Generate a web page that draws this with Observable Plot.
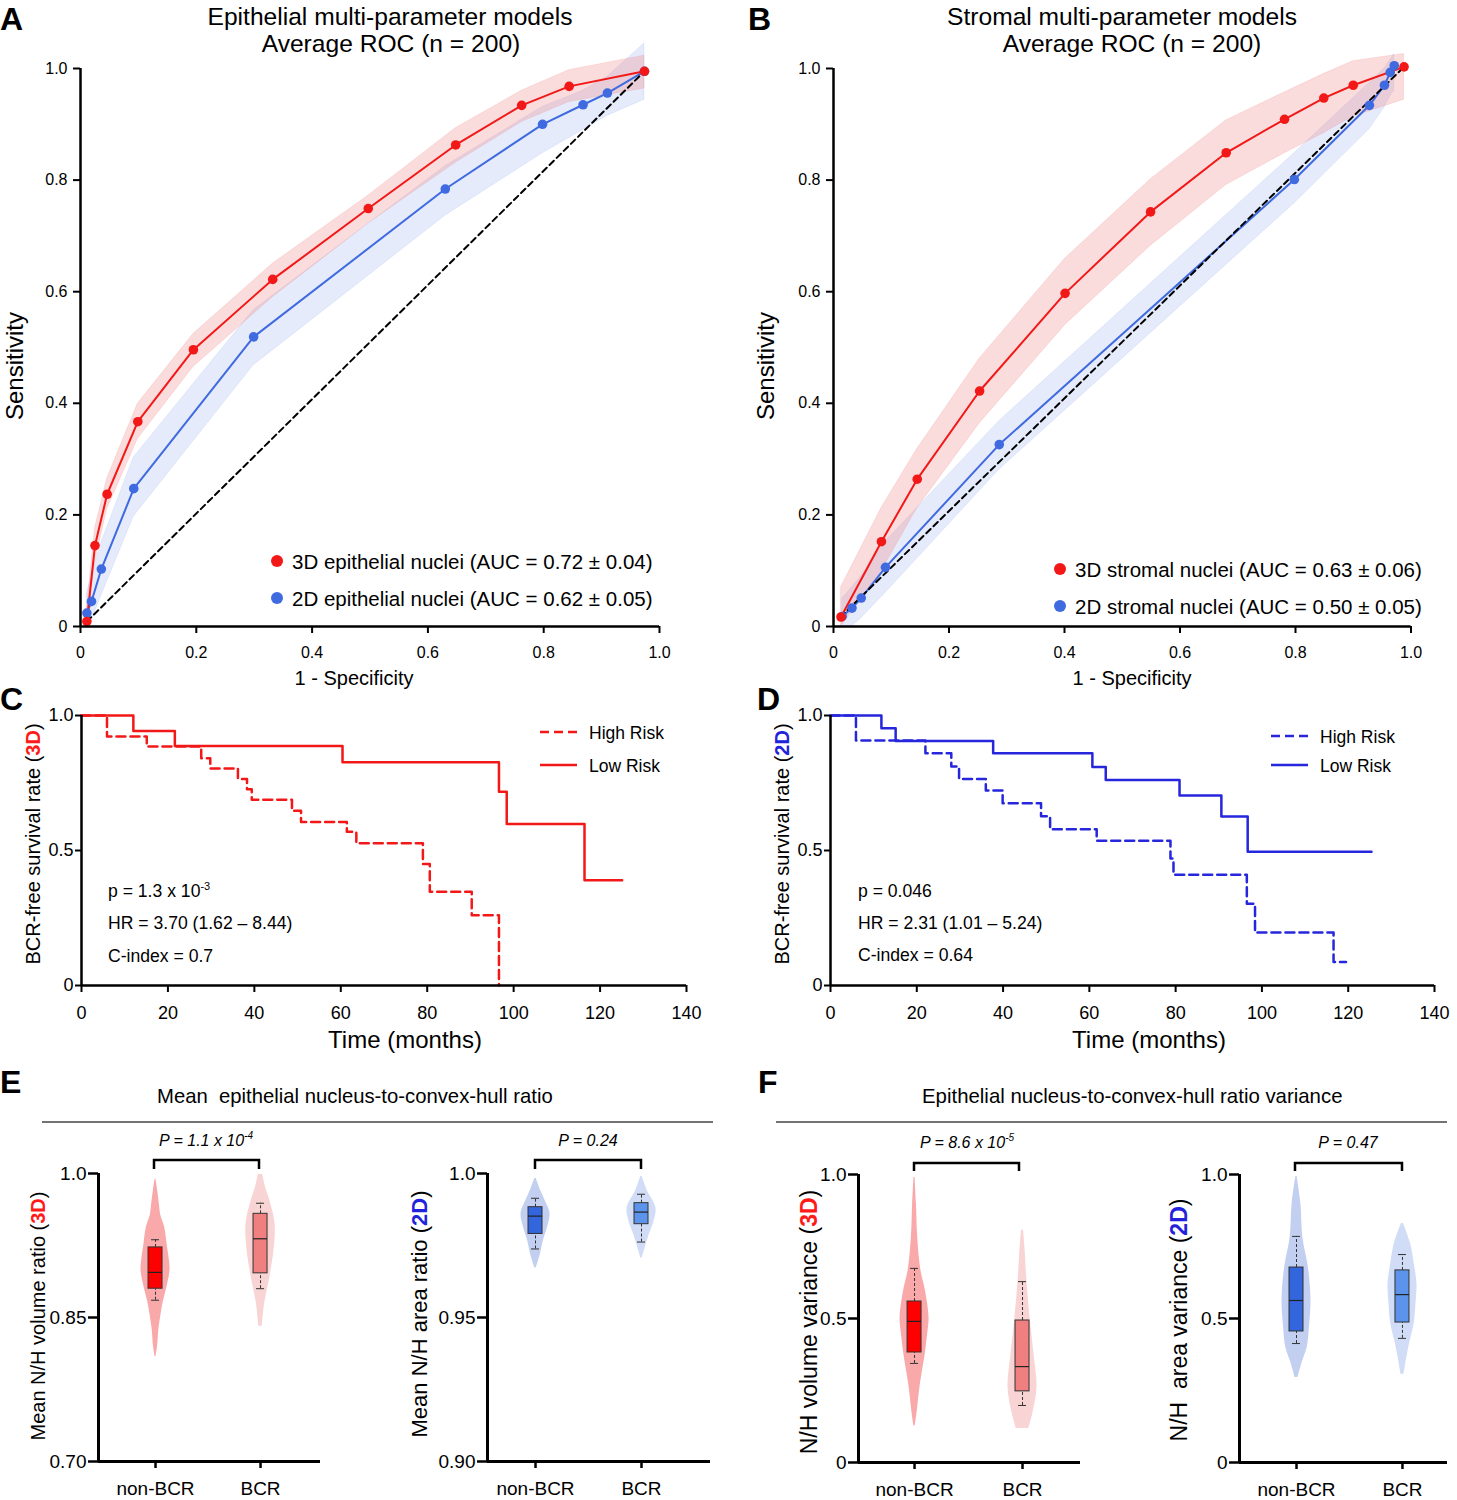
<!DOCTYPE html>
<html><head><meta charset="utf-8">
<script src="https://cdn.jsdelivr.net/npm/d3@7"></script>
<script src="https://cdn.jsdelivr.net/npm/@observablehq/plot@0.6"></script>
<style>
body{margin:0;background:#fff;}
#page{position:relative;width:1457px;height:1500px;overflow:hidden;background:#fff;}
.panel{position:absolute;}
.panel svg{overflow:visible;display:block;}
#overlay{position:absolute;left:0;top:0;pointer-events:none;}
</style></head><body><div id="page"></div>
<script>
// ---------- ROC data (panel A: epithelial) ----------
const rocA3x  = [0.011,0.025,0.046,0.099,0.195,0.332,0.497,0.648,0.762,0.844,0.974];
const rocA3y  = [0.009,0.145,0.237,0.367,0.496,0.622,0.749,0.863,0.934,0.968,0.995];
const rocA3hi = [0.030,0.175,0.265,0.399,0.524,0.650,0.772,0.893,0.960,0.997,1.023];
const rocA3lo = [0.000,0.115,0.210,0.336,0.465,0.590,0.722,0.831,0.904,0.940,0.964];
const rocA2x  = [0.011,0.019,0.036,0.092,0.299,0.630,0.798,0.868,0.910,0.974];
const rocA2y  = [0.024,0.045,0.103,0.247,0.519,0.784,0.900,0.935,0.956,0.995];
const rocA2hi = [0.060,0.090,0.150,0.303,0.567,0.825,0.931,0.960,0.985,1.045];
const rocA2lo = [0.000,0.010,0.055,0.197,0.468,0.736,0.848,0.890,0.915,0.944];
const diagAx = [0.011,0.974], diagAy = [0.009,0.995];
// ---------- ROC data (panel B: stromal) ----------
const rocB3x  = [0.013,0.083,0.145,0.253,0.401,0.549,0.680,0.781,0.849,0.900,0.988];
const rocB3y  = [0.017,0.152,0.264,0.422,0.597,0.743,0.849,0.909,0.947,0.970,1.003];
const rocB3hi = [0.070,0.212,0.318,0.480,0.659,0.801,0.907,0.957,0.990,1.013,1.026];
const rocB3lo = [0.000,0.099,0.212,0.364,0.540,0.682,0.791,0.848,0.884,0.914,0.944];
const rocB2x  = [0.015,0.032,0.048,0.090,0.287,0.798,0.928,0.954,0.964,0.971];
const rocB2y  = [0.018,0.033,0.051,0.106,0.326,0.801,0.934,0.970,0.993,1.005];
const rocB2hi = [0.050,0.070,0.090,0.152,0.368,0.848,0.974,1.000,1.015,1.026];
const rocB2lo = [0.000,0.000,0.015,0.060,0.281,0.758,0.891,0.930,0.950,0.960];
const diagBx = [0.012,0.988], diagBy = [0.017,1.003];
const rocTicks = [0,0.2,0.4,0.6,0.8,1.0];

// ---------- Kaplan-Meier (C: 3D, D: 2D) ----------
const kmC_hiT = [0,5.9,15.1,27.7,29.8,36.2,38.3,39.4,48.7,50.8,61.4,63.6,79.0,80.6,90.3,96.6];
const kmC_hiS = [1.0,0.922,0.885,0.842,0.804,0.765,0.727,0.688,0.647,0.606,0.569,0.527,0.45,0.347,0.26,0];
const kmC_loT = [0,12.0,21.6,60.4,96.6,98.4,116.4,125.1];
const kmC_loS = [1.0,0.943,0.887,0.827,0.718,0.598,0.390,0.390];
const kmD_hiT = [0,5.9,22.0,28.0,29.8,36.0,39.9,48.8,50.9,61.7,78.8,79.5,96.5,98.4,116.6,119.5];
const kmD_hiS = [1.0,0.907,0.860,0.811,0.765,0.722,0.675,0.627,0.579,0.536,0.47,0.41,0.303,0.196,0.087,0.087];
const kmD_loT = [0,11.8,15.1,37.7,60.7,63.8,80.9,90.6,96.7,125.4];
const kmD_loS = [1.0,0.953,0.906,0.860,0.809,0.761,0.704,0.626,0.495,0.495];
const kmXTicks = [0,20,40,60,80,100,120,140];
const kmYTicks = [0,0.5,1.0];

// ---------- Violin / box data ----------
const cats = ["non-BCR","BCR"];
// E left: mean N/H volume ratio (3D)
const vioE3n_v = [0.994,0.982,0.969,0.956,0.944,0.925,0.909,0.899,0.883,0.865,0.852,0.836,0.821,0.809];
const vioE3n_d = [0.03,0.15,0.26,0.37,0.63,0.81,0.96,1.0,0.81,0.52,0.37,0.22,0.15,0.03];
const vioE3b_v = [0.999,0.985,0.972,0.948,0.920,0.892,0.865,0.841];
const vioE3b_d = [0.15,0.36,0.64,1.0,0.93,0.64,0.29,0.12];
const boxE3_q1 = [0.880,0.896], boxE3_med = [0.897,0.932], boxE3_q3 = [0.923,0.958];
const boxE3_lo = [0.868,0.880], boxE3_hi = [0.931,0.969];
// E right: mean N/H area ratio (2D)
const vioE2n_v = [0.9983,0.9938,0.9903,0.9862,0.9817,0.9766,0.9714,0.9672];
const vioE2n_d = [0.05,0.38,0.69,1.0,0.85,0.54,0.31,0.05];
const vioE2b_v = [0.9990,0.9938,0.9879,0.9828,0.9783,0.9741,0.9707];
const vioE2b_d = [0.05,0.42,1.0,0.83,0.5,0.25,0.05];
const boxE2_q1 = [0.9790,0.9824], boxE2_med = [0.9852,0.9866], boxE2_q3 = [0.9883,0.9897];
const boxE2_lo = [0.9738,0.9762], boxE2_hi = [0.9914,0.9928];
// F left: N/H volume variance (3D)
const vioF3n_v = [0.99,0.90,0.78,0.667,0.60,0.503,0.44,0.378,0.31,0.26,0.18,0.128];
const vioF3n_d = [0.04,0.13,0.22,0.44,0.74,1.0,0.89,0.74,0.52,0.37,0.19,0.05];
const vioF3b_v = [0.806,0.736,0.642,0.493,0.378,0.26,0.17,0.118];
const vioF3b_d = [0.07,0.18,0.29,0.54,0.79,1.0,0.71,0.43];
const boxF3_q1 = [0.382,0.247], boxF3_med = [0.490,0.333], boxF3_q3 = [0.559,0.493];
const boxF3_lo = [0.344,0.198], boxF3_hi = [0.674,0.628];
// F right: N/H area variance (2D)
const vioF2n_v = [0.993,0.899,0.78,0.68,0.5625,0.47,0.40,0.344,0.295];
const vioF2n_d = [0.04,0.30,0.44,0.81,1.0,0.89,0.74,0.37,0.1];
const vioF2b_v = [0.83,0.76,0.69,0.62,0.55,0.483,0.42,0.365,0.306];
const vioF2b_d = [0.07,0.56,0.81,1.0,0.93,0.81,0.52,0.30,0.1];
const boxF2_q1 = [0.455,0.486], boxF2_med = [0.5625,0.583], boxF2_q3 = [0.677,0.667];
const boxF2_lo = [0.413,0.431], boxF2_hi = [0.785,0.722];

// ---------- rendering ----------
const FONT = "'Liberation Sans', Arial, Helvetica, sans-serif";
const RED = "#f21818", BLUE = "#3f6ae0", KMBLUE = "#2626dc";
const page = document.getElementById("page");
function baseStyle(size){ return {background:"transparent", overflow:"visible", fontFamily:FONT, fontSize:size+"px", color:"#000"}; }
function place(node, left, top, w){
  const d = document.createElement("div");
  d.className = "panel";
  d.style.left = left+"px"; d.style.top = top+"px"; d.style.width = w+"px";
  d.appendChild(node); page.appendChild(d);
}
const zip = (xs, ys, extra) => xs.map((x,i)=>Object.assign({x, y: ys[i]}, extra ? extra(i) : {}));

function rocPlot(s3, s2, dg, g){
  const t3 = zip(s3.x, s3.y, i => ({lo: s3.lo[i], hi: s3.hi[i]}));
  const t2 = zip(s2.x, s2.y, i => ({lo: s2.lo[i], hi: s2.hi[i]}));
  const td = zip(dg.x, dg.y);
  const tf = d => d === 0 ? "0" : d.toFixed(1);
  return Plot.plot({
    width: g.w, height: 640, marginLeft: g.ml, marginRight: g.mr, marginTop: 18, marginBottom: 64,
    x: {domain:[0,1], axis:null, label:null}, y: {domain:[0,1], axis:null, label:null},
    style: baseStyle(16),
    marks: [
      Plot.areaY(t2, {x:"x", y1:"lo", y2:"hi", fill:"#7f9ce8", fillOpacity:0.2, stroke:"#7f9ce8", strokeOpacity:0.15}),
      Plot.areaY(t3, {x:"x", y1:"lo", y2:"hi", fill:"#f08080", fillOpacity:0.28, stroke:"#f08080", strokeOpacity:0.2}),
      Plot.line(t2, {x:"x", y:"y", stroke:BLUE, strokeWidth:2}),
      Plot.line(t3, {x:"x", y:"y", stroke:RED, strokeWidth:2}),
      Plot.line(td, {x:"x", y:"y", stroke:"#000", strokeWidth:2, strokeDasharray:"6,4"}),
      Plot.dot(t2, {x:"x", y:"y", r:4.8, fill:BLUE}),
      Plot.dot(t3, {x:"x", y:"y", r:4.8, fill:RED}),
      Plot.ruleX([0], {stroke:"#000", strokeWidth:2.5}),
      Plot.ruleY([0], {stroke:"#000", strokeWidth:2.5}),
      Plot.axisY({ticks: rocTicks, tickFormat: tf, tickSize: 7, tickPadding: 6, fontSize: 16, strokeWidth: 2, label: null}),
      Plot.axisX({ticks: rocTicks, tickFormat: tf, tickSize: 7, tickPadding: 13, fontSize: 16, strokeWidth: 2, label: null})
    ]
  });
}

function kmPlot(hiT, hiS, loT, loS, color, g){
  const th = hiT.map((t,i)=>({t, s: hiS[i]}));
  const tl = loT.map((t,i)=>({t, s: loS[i]}));
  return Plot.plot({
    width: g.w, height: 370, marginLeft: g.ml, marginRight: g.mr, marginTop: 15, marginBottom: 85,
    x: {domain:[0,140], axis:null, label:null}, y: {domain:[0,1], axis:null, label:null},
    style: baseStyle(18),
    marks: [
      Plot.line(th, {x:"t", y:"s", curve:"step-after", stroke:color, strokeWidth:2.5, strokeDasharray:"9,5"}),
      Plot.line(tl, {x:"t", y:"s", curve:"step-after", stroke:color, strokeWidth:2.5}),
      Plot.ruleX([0], {stroke:"#000", strokeWidth:2.5}),
      Plot.ruleY([0], {stroke:"#000", strokeWidth:2.5}),
      Plot.axisY({ticks: kmYTicks, tickFormat: d => d === 0 ? "0" : d.toFixed(1), tickSize: 6, tickPadding: 2, fontSize: 18, strokeWidth: 2, label: null}),
      Plot.axisX({ticks: kmXTicks, tickSize: 7, tickPadding: 14, fontSize: 18, strokeWidth: 2, label: null})
    ]
  });
}

function boxPlot(c){
  const frameW = c.w - c.ml - c.mr;
  const ppu = frameW / (c.xd[1] - c.xd[0]);
  const VW = 14.5/ppu, BW = 7/ppu, CW = 4/ppu;
  const marks = [];
  c.vio.forEach((vv, k) => {
    const pos = k + 1;
    const rows = vv.v.map((val,i)=>({v: val, d: vv.d[i]}));
    marks.push(Plot.areaX(rows, {y:"v", x1: r => pos - r.d*VW, x2: r => pos + r.d*VW, fill: c.vcol[k], curve:"catmull-rom"}));
  });
  cats.forEach((cat, k) => {
    const r = {pos: k+1, q1: c.box.q1[k], med: c.box.med[k], q3: c.box.q3[k], lo: c.box.lo[k], hi: c.box.hi[k]};
    marks.push(
      Plot.ruleX([r], {x:"pos", y1:"q3", y2:"hi", stroke:"#333", strokeWidth:1, strokeDasharray:"3,2"}),
      Plot.ruleX([r], {x:"pos", y1:"lo", y2:"q1", stroke:"#333", strokeWidth:1, strokeDasharray:"3,2"}),
      Plot.ruleY([r], {y:"hi", x1: d => d.pos - CW, x2: d => d.pos + CW, stroke:"#333", strokeWidth:1}),
      Plot.ruleY([r], {y:"lo", x1: d => d.pos - CW, x2: d => d.pos + CW, stroke:"#333", strokeWidth:1}),
      Plot.rect([r], {x1: d => d.pos - BW, x2: d => d.pos + BW, y1:"q1", y2:"q3", fill: c.bcol[k], stroke:"#333", strokeWidth:1}),
      Plot.ruleY([r], {y:"med", x1: d => d.pos - BW, x2: d => d.pos + BW, stroke:"#222", strokeWidth:1.2})
    );
  });
  marks.push(
    Plot.ruleX([c.xd[0]], {stroke:"#000", strokeWidth:3}),
    Plot.ruleY([c.yd[0]], {stroke:"#000", strokeWidth:3}),
    Plot.axisY({ticks: c.yticks, tickFormat: c.yfmt, tickSize: 10, tickPadding: 2, fontSize: 19, strokeWidth: 2.5, label: null}),
    Plot.axisX({ticks: [1,2], tickFormat: d => cats[d-1], tickSize: 7, tickPadding: 13, fontSize: 19, strokeWidth: 2.5, label: null})
  );
  return Plot.plot({
    width: c.w, height: 350, marginLeft: c.ml, marginRight: c.mr, marginTop: c.mt, marginBottom: c.mb,
    x: {domain: c.xd, axis:null, label:null}, y: {domain: c.yd, axis:null, label:null},
    style: baseStyle(19), marks
  });
}

// Panel A & B
place(rocPlot({x:rocA3x,y:rocA3y,lo:rocA3lo,hi:rocA3hi},{x:rocA2x,y:rocA2y,lo:rocA2lo,hi:rocA2hi},{x:diagAx,y:diagAy},{w:730,ml:80,mr:71}), 0, 50, 730);
place(rocPlot({x:rocB3x,y:rocB3y,lo:rocB3lo,hi:rocB3hi},{x:rocB2x,y:rocB2y,lo:rocB2lo,hi:rocB2hi},{x:diagBx,y:diagBy},{w:707,ml:83,mr:46.5}), 750, 50, 707);
// Panel C & D
place(kmPlot(kmC_hiT,kmC_hiS,kmC_loT,kmC_loS,RED,{w:720,ml:81,mr:34}), 0, 700, 720);
place(kmPlot(kmD_hiT,kmD_hiS,kmD_loT,kmD_loS,KMBLUE,{w:707,ml:80,mr:23}), 750, 700, 707);
// Panel E & F
const RED_V = ["#f9a9a9","#f8d4d4"], RED_B = ["#ff0000","#f08080"];
const BLU_V = ["#c3cff0","#d1ddf6"], BLU_B = ["#3366dd","#5b94ea"];
place(boxPlot({w:360, ml:98, mr:40, mt:23, mb:39, xd:[0.457,2.571], yd:[0.70,1.0], yticks:[0.70,0.85,1.0],
  yfmt: d => d === 1 ? "1.0" : d.toFixed(2),
  vio:[{v:vioE3n_v,d:vioE3n_d},{v:vioE3b_v,d:vioE3b_d}],
  box:{q1:boxE3_q1,med:boxE3_med,q3:boxE3_q3,lo:boxE3_lo,hi:boxE3_hi}, vcol:RED_V, bcol:RED_B}), 0, 1150, 360);
place(boxPlot({w:340, ml:107, mr:10, mt:23, mb:39, xd:[0.547,2.651], yd:[0.90,1.0], yticks:[0.90,0.95,1.0],
  yfmt: d => d === 1 ? "1.0" : d.toFixed(2),
  vio:[{v:vioE2n_v,d:vioE2n_d},{v:vioE2b_v,d:vioE2b_d}],
  box:{q1:boxE2_q1,med:boxE2_med,q3:boxE2_q3,lo:boxE2_lo,hi:boxE2_hi}, vcol:BLU_V, bcol:BLU_B}), 380, 1150, 340);
place(boxPlot({w:350, ml:108, mr:20, mt:24, mb:38, xd:[0.481,2.537], yd:[0,1.0], yticks:[0,0.5,1.0],
  yfmt: d => d === 0 ? "0" : d.toFixed(1),
  vio:[{v:vioF3n_v,d:vioF3n_d},{v:vioF3b_v,d:vioF3b_d}],
  box:{q1:boxF3_q1,med:boxF3_med,q3:boxF3_q3,lo:boxF3_lo,hi:boxF3_hi}, vcol:RED_V, bcol:RED_B}), 750, 1150, 350);
place(boxPlot({w:347, ml:129, mr:10, mt:24, mb:38, xd:[0.462,2.425], yd:[0,1.0], yticks:[0,0.5,1.0],
  yfmt: d => d === 0 ? "0" : d.toFixed(1),
  vio:[{v:vioF2n_v,d:vioF2n_d},{v:vioF2b_v,d:vioF2b_d}],
  box:{q1:boxF2_q1,med:boxF2_med,q3:boxF2_q3,lo:boxF2_lo,hi:boxF2_hi}, vcol:BLU_V, bcol:BLU_B}), 1110, 1150, 347);

// ---------- overlay: titles, labels, legends, annotations ----------
function T(x, y, content, o = {}){
  const size = o.size || 16, anchor = o.anchor || "start", weight = o.weight || "normal",
        fst = o.italic ? "italic" : "normal", fill = o.fill || "#000";
  const tr = o.rot ? ` transform="rotate(${o.rot} ${x} ${y})"` : "";
  return `<text x="${x}" y="${y}" font-size="${size}" text-anchor="${anchor}" font-weight="${weight}" font-style="${fst}" fill="${fill}"${tr} xml:space="preserve" style="white-space:pre">${content}</text>`;
}
const sup = (s, sz) => `<tspan dy="-7" font-size="${sz||11}">${s}</tspan>`;
const red3D = `<tspan fill="#ff1a1a" font-weight="bold">3D</tspan>`;
const blue2D = `<tspan fill="#2222dd" font-weight="bold">2D</tspan>`;
let o = "";
// panel letters
o += T(0, 30, "A", {size:32, weight:"bold"});
o += T(748, 30, "B", {size:32, weight:"bold"});
o += T(0, 710, "C", {size:32, weight:"bold"});
o += T(757, 710, "D", {size:32, weight:"bold"});
o += T(0, 1093, "E", {size:32, weight:"bold"});
o += T(758, 1093, "F", {size:32, weight:"bold"});
// ROC titles
o += T(390, 25, "Epithelial multi-parameter models", {size:24.6, anchor:"middle"});
o += T(391, 52, "Average ROC (n = 200)", {size:24.6, anchor:"middle"});
o += T(1122, 25, "Stromal multi-parameter models", {size:24.6, anchor:"middle"});
o += T(1132, 52, "Average ROC (n = 200)", {size:24.6, anchor:"middle"});
// ROC axis labels
o += T(23, 366, "Sensitivity", {size:24, anchor:"middle", rot:-90});
o += T(774, 366, "Sensitivity", {size:24, anchor:"middle", rot:-90});
o += T(354, 685, "1 - Specificity", {size:20, anchor:"middle"});
o += T(1132, 685, "1 - Specificity", {size:20, anchor:"middle"});
// ROC legends
o += `<circle cx="277" cy="561" r="6" fill="${RED}"/><circle cx="277" cy="598" r="6" fill="${BLUE}"/>`;
o += T(292, 569, "3D epithelial nuclei (AUC = 0.72 ± 0.04)", {size:20.5});
o += T(292, 606, "2D epithelial nuclei (AUC = 0.62 ± 0.05)", {size:20.5});
o += `<circle cx="1060" cy="569" r="6" fill="${RED}"/><circle cx="1060" cy="606" r="6" fill="${BLUE}"/>`;
o += T(1075, 577, "3D stromal nuclei (AUC = 0.63 ± 0.06)", {size:20.5});
o += T(1075, 614, "2D stromal nuclei (AUC = 0.50 ± 0.05)", {size:20.5});
// KM labels
o += T(40, 844, `BCR-free survival rate (${red3D})`, {size:20, anchor:"middle", rot:-90});
o += T(789, 844, `BCR-free survival rate (${blue2D})`, {size:20, anchor:"middle", rot:-90});
o += T(405, 1048, "Time (months)", {size:24, anchor:"middle"});
o += T(1149, 1048, "Time (months)", {size:24, anchor:"middle"});
// KM legends
o += `<line x1="540" y1="732" x2="577" y2="732" stroke="${RED}" stroke-width="2.5" stroke-dasharray="9,5"/>`;
o += `<line x1="540" y1="765" x2="577" y2="765" stroke="${RED}" stroke-width="2.5"/>`;
o += T(589, 739, "High Risk", {size:17.5});
o += T(589, 772, "Low Risk", {size:17.5});
o += `<line x1="1271" y1="736" x2="1308" y2="736" stroke="${KMBLUE}" stroke-width="2.5" stroke-dasharray="9,5"/>`;
o += `<line x1="1271" y1="765" x2="1308" y2="765" stroke="${KMBLUE}" stroke-width="2.5"/>`;
o += T(1320, 743, "High Risk", {size:17.5});
o += T(1320, 772, "Low Risk", {size:17.5});
// KM annotations
o += T(108, 897, `p = 1.3 x 10${sup("-3")}`, {size:17.6});
o += T(108, 929, "HR = 3.70 (1.62 – 8.44)", {size:17.6});
o += T(108, 962, "C-index = 0.7", {size:17.6});
o += T(858, 897, "p = 0.046", {size:17.6});
o += T(858, 929, "HR = 2.31 (1.01 – 5.24)", {size:17.6});
o += T(858, 961, "C-index = 0.64", {size:17.6});
// E / F headers
o += T(157, 1103, "Mean  epithelial nucleus-to-convex-hull ratio", {size:20.3});
o += `<line x1="42" y1="1122" x2="713" y2="1122" stroke="#444" stroke-width="1.5"/>`;
o += T(922, 1103, "Epithelial nucleus-to-convex-hull ratio variance", {size:20.4});
o += `<line x1="776" y1="1122" x2="1447" y2="1122" stroke="#444" stroke-width="1.5"/>`;
// brackets & P values
o += `<path d="M154,1169 V1160 H259 V1169" fill="none" stroke="#000" stroke-width="2.5"/>`;
o += `<path d="M535,1169 V1160 H641 V1169" fill="none" stroke="#000" stroke-width="2.5"/>`;
o += `<path d="M914,1171 V1163 H1019 V1171" fill="none" stroke="#000" stroke-width="2.5"/>`;
o += `<path d="M1295,1171 V1163 H1402 V1171" fill="none" stroke="#000" stroke-width="2.5"/>`;
o += T(206, 1146, `P = 1.1 x 10${sup("-4",10)}`, {size:16, anchor:"middle", italic:true});
o += T(588, 1146, "P = 0.24", {size:16, anchor:"middle", italic:true});
o += T(967, 1148, `P = 8.6 x 10${sup("-5",10)}`, {size:16, anchor:"middle", italic:true});
o += T(1348, 1148, "P = 0.47", {size:16, anchor:"middle", italic:true});
// E / F y labels
o += T(45, 1316, `Mean N/H volume ratio (${red3D})`, {size:20, anchor:"middle", rot:-90});
o += T(427, 1314, `Mean N/H area ratio (${blue2D})`, {size:22, anchor:"middle", rot:-90});
o += T(817, 1322, `N/H volume variance (${red3D})`, {size:23, anchor:"middle", rot:-90});
o += T(1187, 1320, `N/H  area variance (${blue2D})`, {size:23, anchor:"middle", rot:-90});

page.insertAdjacentHTML("beforeend",
  `<svg id="overlay" width="1457" height="1500" xmlns="http://www.w3.org/2000/svg" font-family="${FONT.replace(/"/g,"")}">${o}</svg>`);
</script>
</body></html>
